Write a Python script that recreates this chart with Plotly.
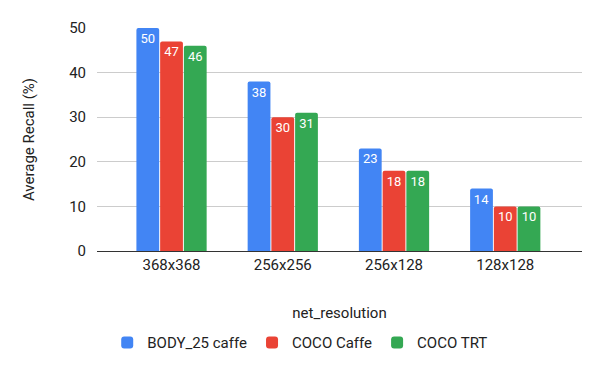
import plotly.graph_objects as go

categories = ['368x368', '256x256', '256x128', '128x128']
body25_caffe = [50, 38, 23, 14]
coco_caffe = [47, 30, 18, 10]
coco_trt = [46, 31, 18, 10]

series = [
    ('BODY_25 caffe', body25_caffe, '#4285F4'),
    ('COCO Caffe', coco_caffe, '#EA4335'),
    ('COCO TRT', coco_trt, '#34A853'),
]

fig = go.Figure()
for name, vals, col in series:
    fig.add_trace(go.Bar(
        x = categories, y = vals, name = name,
        marker = dict(color = col, line = dict(width = 0), cornerradius = 2),
        text = [str(v) for v in vals],
        textposition = 'inside',
        insidetextanchor = 'end',
        textangle = 0,
        textfont = dict(color = 'white', size = 13, family = 'Roboto'),
        cliponaxis = False,
    ))

# page body has an 8px margin, so the margins below are shifted by that
fig.update_layout(
    width = 600,
    height = 371,
    margin = dict(l = 89, r = 26, t = 20, b = 128, autoexpand = False),
    barmode = 'group',
    bargap = 0.36,
    bargroupgap = 0.04,
    plot_bgcolor = 'white',
    paper_bgcolor = 'white',
    font = dict(family = 'Roboto', color = '#222222', size = 15),
    uniformtext = dict(minsize = 13, mode = 'show'),
    legend = dict(
        orientation = 'h', x = 0.419, xanchor = 'center', y = -0.337, yanchor = 'top',
        font = dict(size = 15, color = '#222222'),
        itemwidth = 30,
    ),
)
fig.update_xaxes(
    range = [-0.67, 3.69],
    showline = True,
    linecolor = '#333333',
    linewidth = 1,
    showgrid = False,
    ticks = '',
    title = dict(text = 'net_resolution', standoff = 34, font = dict(size = 15)),
    tickfont = dict(size = 15),
)
fig.update_yaxes(
    range = [0, 50],
    dtick = 10,
    gridcolor = '#cccccc',
    zeroline = False,
    showline = False,
    ticks = '',
    ticklabelstandoff = 10,
    title = dict(text = 'Average Recall (%)', standoff = 30, font = dict(size = 15)),
    tickfont = dict(size = 15),
)

fig.write_html("out.html")
